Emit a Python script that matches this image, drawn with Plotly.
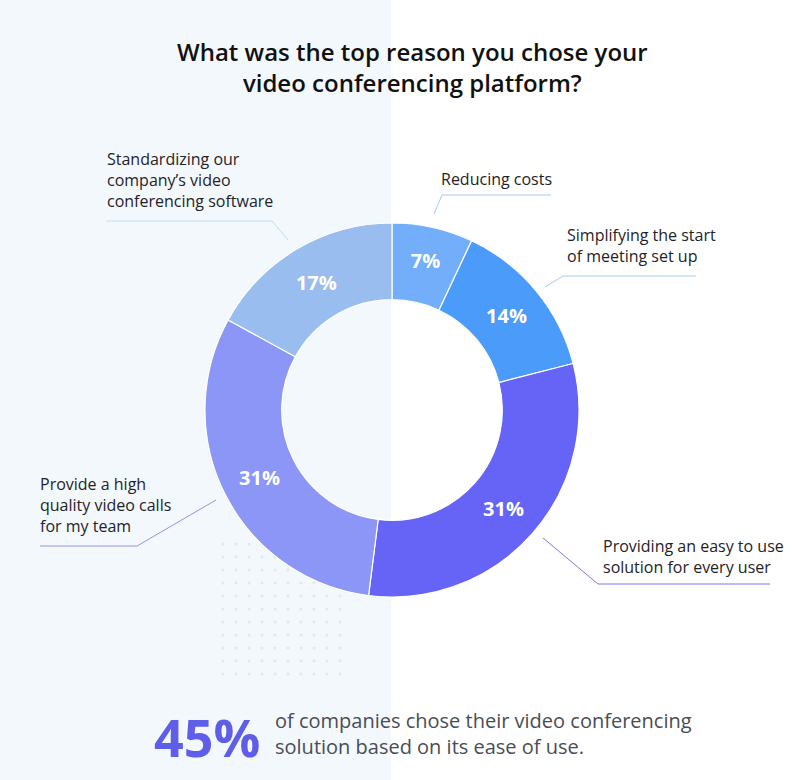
import numpy as np
import plotly.graph_objects as go

W, H = 792, 780

# ---- data ----
categories = [
    "Reducing costs",
    "Simplifying the start of meeting set up",
    "Providing an easy to use solution for every user",
    "Provide a high quality video calls for my team",
    "Standardizing our company's video conferencing software",
]
values = [7, 14, 31, 31, 17]
colors = ["#72aefa", "#4a9bfa", "#6663f7", "#8b96f7", "#99bdee"]

label_texts = [
    "Reducing costs",
    "Simplifying the start<br>of meeting set up",
    "Providing an easy to use<br>solution for every user",
    "Provide a high<br>quality video calls<br>for my team",
    "Standardizing our<br>company’s video<br>conferencing software",
]

title_text = "What was the top reason you chose your<br>video conferencing platform?"
stat_value = "45%"
stat_text = "of companies chose their video conferencing<br>solution based on its ease of use."

# ---- layout geometry (pixels) ----
cx, cy, R = 392, 410, 187

fig = go.Figure()

# decorative dot grid
gx, gy = np.meshgrid(np.arange(223, 341, 13), np.arange(544, 676, 13))
fig.add_trace(go.Scatter(
    x=gx.ravel(), y=gy.ravel(), mode="markers",
    marker=dict(size=3, color="#e1e6f0"),
    hoverinfo="skip", showlegend=False,
))

fig.add_trace(go.Pie(
    labels=categories, values=values, sort=False,
    direction="clockwise", rotation=0, hole=0.59,
    marker=dict(colors=colors, line=dict(color="white", width=1.2)),
    texttemplate="%{value}%", textposition="inside",
    insidetextorientation="horizontal",
    textfont=dict(family="Open Sans", size=20, color="white", weight="bold"),
    domain=dict(x=[(cx - R) / W, (cx + R) / W], y=[(H - cy - R) / H, (H - cy + R) / H]),
    showlegend=False, hoverinfo="label+percent",
))

shapes = [
    dict(type="rect", xref="paper", yref="paper", x0=0, x1=391 / W, y0=0, y1=1,
         fillcolor="#f3f8fd", line=dict(width=0), layer="below"),
]

# leader lines: (points, color)
leaders = [
    ([(551, 195), (442, 195), (434, 214)], "#a9c9ef"),
    ([(696, 276), (563, 276), (545, 287)], "#a9c9ef"),
    ([(106, 221), (272, 221), (288, 240)], "#c3daf3"),
    ([(40, 546), (137, 546), (216, 500)], "#8f94e6"),
    ([(770, 584), (598, 584), (543, 538)], "#7c7be0"),
]
for pts, col in leaders:
    for (x0, y0), (x1, y1) in zip(pts[:-1], pts[1:]):
        shapes.append(dict(type="line", xref="x", yref="y", x0=x0, y0=y0, x1=x1, y1=y1,
                           line=dict(color=col, width=1)))

label_pos = [
    (439, 179),
    (565, 245),
    (601, 556),
    (38, 505),
    (105, 180),
]
annotations = []
for txt, (x, y) in zip(label_texts, label_pos):
    annotations.append(dict(
        x=x, y=y, xref="x", yref="y", text=txt, showarrow=False,
        xanchor="left", yanchor="middle", align="left",
        font=dict(family="Open Sans", size=16, color="#1f2328"),
    ))

annotations.append(dict(
    x=412, y=67, xref="x", yref="y", text=title_text, showarrow=False,
    xanchor="center", yanchor="middle", align="center",
    font=dict(family="Open Sans", size=24, color="#111111", weight=600),
))
annotations.append(dict(
    x=152, y=736, xref="x", yref="y", text=stat_value, showarrow=False,
    xanchor="left", yanchor="middle",
    font=dict(family="Open Sans", size=52, color="#5f5ee8", weight="bold"),
))
annotations.append(dict(
    x=273, y=733, xref="x", yref="y", text=stat_text, showarrow=False,
    xanchor="left", yanchor="middle", align="left",
    font=dict(family="Open Sans", size=20, color="#4a4d55"),
))

fig.update_layout(
    width=W, height=H, margin=dict(l=0, r=0, t=0, b=0),
    paper_bgcolor="white", plot_bgcolor="rgba(0,0,0,0)",
    xaxis=dict(range=[0, W], visible=False, fixedrange=True),
    yaxis=dict(range=[H, 0], visible=False, fixedrange=True),
    shapes=shapes, annotations=annotations,
    font=dict(family="Open Sans"),
)

fig.write_html("out.html", config=dict(displayModeBar=False))
